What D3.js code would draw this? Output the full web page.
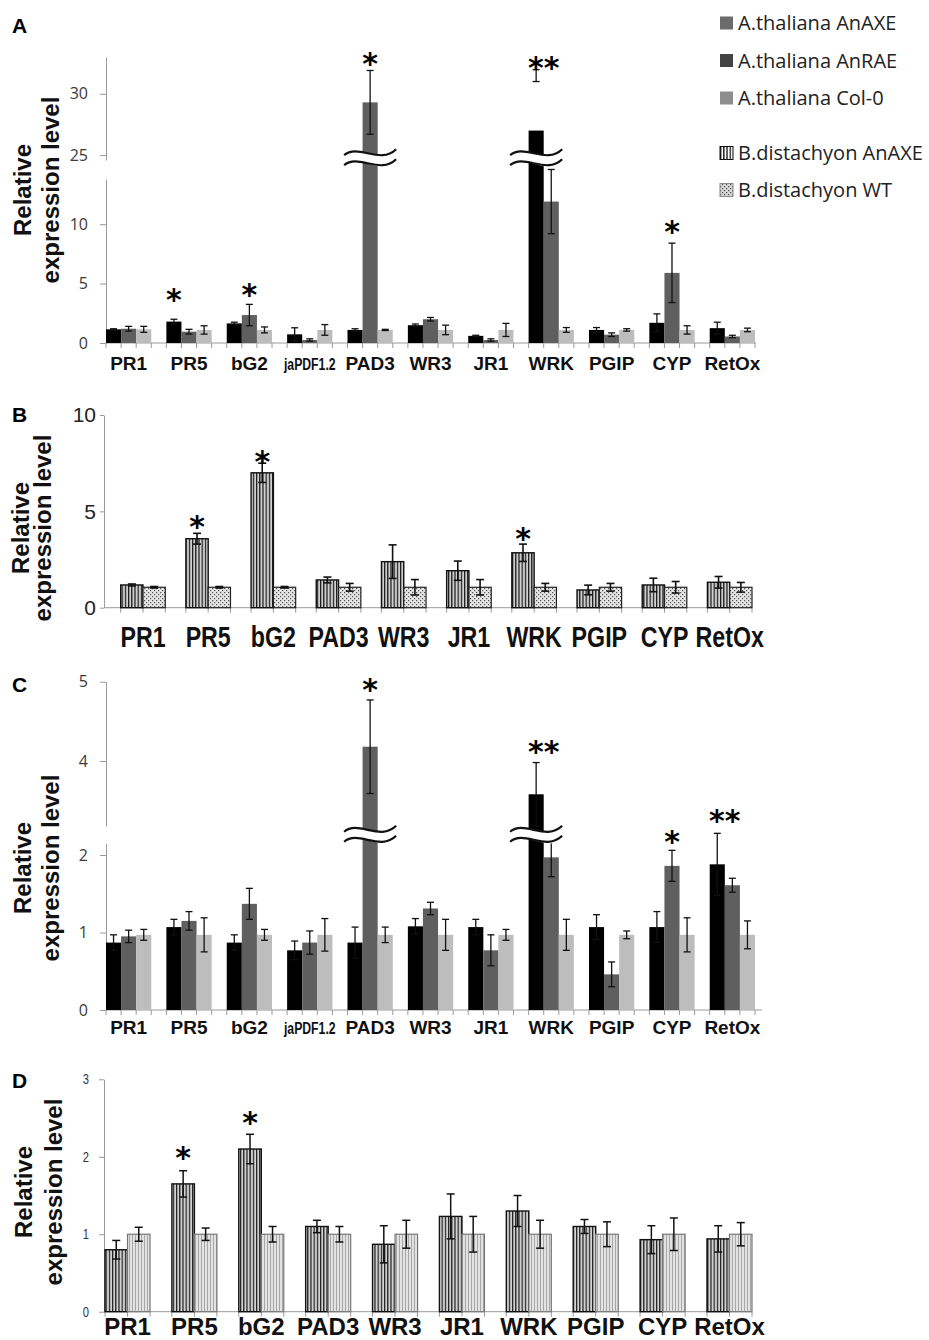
<!DOCTYPE html>
<html>
<head>
<meta charset="utf-8">
<script src="https://cdn.jsdelivr.net/npm/d3@7"></script>
<style>
  body { margin: 0; background: #fff; }
  svg text { font-family: "Liberation Sans", Arial, sans-serif; }
</style>
</head>
<body>
<svg id="fig" width="929" height="1340"></svg>
<script>
// ---- data ----
const genesAC = ["PR1", "PR5", "bG2", "jaPDF1.2", "PAD3", "WR3", "JR1", "WRK", "PGIP", "CYP", "RetOx"];
const genesBD = ["PR1", "PR5", "bG2", "PAD3", "WR3", "JR1", "WRK", "PGIP", "CYP", "RetOx"];
const legendLabels = ["A.thaliana AnAXE", "A.thaliana AnRAE", "A.thaliana Col-0", "B.distachyon AnAXE", "B.distachyon WT"];

// panel A (A. thaliana)
const aAxe    = [1.15, 1.8, 1.65, 0.73, 1.1, 1.5, 0.6, 27.0, 1.1, 1.7, 1.25];
const aAxeErr = [0.05, 0.2, 0.1, 0.55, 0.1, 0.1, 0.05, 4.0, 0.2, 0.75, 0.5];
const aRae    = [1.2, 0.95, 2.35, 0.25, 29.3, 2.0, 0.25, 11.9, 0.7, 5.9, 0.55];
const aRaeErr = [0.2, 0.2, 0.9, 0.1, 2.6, 0.15, 0.1, 2.7, 0.15, 2.5, 0.1];
const aCol    = [1.15, 1.1, 1.1, 1.1, 1.1, 1.1, 1.1, 1.1, 1.1, 1.1, 1.1];
const aColErr = [0.25, 0.35, 0.25, 0.45, 0.05, 0.4, 0.55, 0.2, 0.1, 0.35, 0.15];

// panel B (B. distachyon)
const bAxe    = [1.18, 3.58, 7.0, 1.44, 2.39, 1.92, 2.85, 0.92, 1.18, 1.32];
const bAxeErr = [0.05, 0.28, 0.5, 0.15, 0.87, 0.5, 0.45, 0.25, 0.35, 0.3];
const bWt     = [1.06, 1.06, 1.06, 1.06, 1.06, 1.06, 1.06, 1.06, 1.06, 1.06];
const bWtErr  = [0.04, 0.04, 0.04, 0.2, 0.4, 0.4, 0.2, 0.2, 0.3, 0.25];

// panel C (A. thaliana)
const cAxe    = [0.87, 1.07, 0.87, 0.77, 0.87, 1.08, 1.07, 3.58, 1.07, 1.07, 1.88];
const cAxeErr = [0.1, 0.1, 0.1, 0.12, 0.2, 0.1, 0.1, 0.4, 0.16, 0.2, 0.4];
const cRae    = [0.95, 1.15, 1.37, 0.87, 4.18, 1.31, 0.77, 1.97, 0.46, 1.86, 1.61];
const cRaeErr = [0.08, 0.12, 0.2, 0.15, 0.59, 0.08, 0.2, 0.25, 0.16, 0.2, 0.09];
const cCol    = [0.97, 0.97, 0.97, 0.97, 0.97, 0.97, 0.97, 0.97, 0.97, 0.97, 0.97];
const cColErr = [0.07, 0.22, 0.07, 0.21, 0.1, 0.2, 0.07, 0.2, 0.05, 0.22, 0.18];

// panel D (B. distachyon)
const dAxe    = [0.8, 1.65, 2.1, 1.1, 0.87, 1.23, 1.3, 1.1, 0.93, 0.94];
const dAxeErr = [0.12, 0.17, 0.19, 0.08, 0.24, 0.29, 0.2, 0.09, 0.18, 0.17];
const dWt     = [1.0, 1.0, 1.0, 1.0, 1.0, 1.0, 1.0, 1.0, 1.0, 1.0];
const dWtErr  = [0.09, 0.08, 0.1, 0.1, 0.18, 0.23, 0.18, 0.16, 0.21, 0.15];

// y tick values
const ticksALo = [0, 5, 10], ticksAHi = [25, 30];
const ticksB = [0, 5, 10];
const ticksCLo = [0, 1, 2], ticksCHi = [4, 5];
const ticksD = [0, 1, 2, 3];

// significance marks: gene, bar slot (0.5 = between first two bars), level
const starsA = [
  { gene: "PR5", slot: 0, v: 4.0, t: "*" },
  { gene: "bG2", slot: 1, v: 4.45, t: "*" },
  { gene: "PAD3", slot: 1, v: 32.8, t: "*" },
  { gene: "WRK", slot: 0.5, v: 32.5, t: "**" },
  { gene: "CYP", slot: 1, v: 9.75, t: "*" }
];
const starsB = [
  { gene: "PR5", slot: 0, v: 4.46, t: "*" },
  { gene: "bG2", slot: 0, v: 7.8, t: "*" },
  { gene: "WRK", slot: 0, v: 3.82, t: "*" }
];
const starsC = [
  { gene: "PAD3", slot: 1, v: 4.96, t: "*" },
  { gene: "WRK", slot: 0.5, v: 4.18, t: "**" },
  { gene: "CYP", slot: 1, v: 2.23, t: "*" },
  { gene: "RetOx", slot: 0.5, v: 2.5, t: "**" }
];
const starsD = [
  { gene: "PR5", slot: 0, v: 2.05, t: "*" },
  { gene: "bG2", slot: 0, v: 2.5, t: "*" }
];

// ---- drawing ----
const svg = d3.select("#fig");
const defs = svg.append("defs");

function stripes(id, bg, fg, period, w) {
  const pt = defs.append("pattern").attr("id", id)
    .attr("patternUnits", "userSpaceOnUse").attr("width", period).attr("height", 10);
  pt.append("rect").attr("width", period).attr("height", 10).attr("fill", bg);
  pt.append("rect").attr("width", w).attr("height", 10).attr("fill", fg);
}
function dots(id, bg, fg) {
  const pt = defs.append("pattern").attr("id", id)
    .attr("patternUnits", "userSpaceOnUse").attr("width", 4).attr("height", 4);
  pt.append("rect").attr("width", 4).attr("height", 4).attr("fill", bg);
  pt.append("rect").attr("x", 0).attr("y", 0).attr("width", 1.2).attr("height", 1.2).attr("fill", fg);
  pt.append("rect").attr("x", 2).attr("y", 2).attr("width", 1.2).attr("height", 1.2).attr("fill", fg);
}
stripes("stripeB", "#cfcfcf", "#151515", 3.2, 1.2);
stripes("stripeD", "#d2d2d2", "#1a1a1a", 3.2, 1.2);
stripes("stripeLeg", "#ffffff", "#111", 3.2, 1.3);
stripes("finesD", "#e2e2e2", "#a8a8a8", 3, 1);
dots("dotB", "#e4e4e4", "#555");
dots("dotLeg", "#d8d8d8", "#444");

function panel(p) {
  const g = svg.append("g");
  const n = p.series.length;
  const x0 = d3.scaleBand().domain(p.genes).range(p.xr).paddingInner(p.pad).paddingOuter(0);
  const x1 = d3.scaleBand().domain(d3.range(n)).range([0, x0.bandwidth()]);
  const lo = d3.scaleLinear().domain(p.lo).range(p.loR);
  const hi = p.hi ? d3.scaleLinear().domain(p.hi).range(p.hiR) : null;
  const y = v => (hi && v >= p.hi[0]) ? hi(v) : lo(v);
  const base = lo(0);

  // y axis (two pieces when broken)
  const styleAxis = sel => {
    sel.select(".domain").attr("stroke", "#9a9a9a");
    sel.selectAll(".tick line").attr("stroke", "#9a9a9a");
    sel.selectAll(".tick text").attr("fill", p.tickColor).attr("font-size", p.tickFont)
      .style("font-family", p.tickFamily);
    if (p.tickNarrow) {
      sel.selectAll(".tick text").each(function () {
        const t = d3.select(this);
        const x = +t.attr("x");
        t.attr("x", x / p.tickNarrow).attr("transform", `scale(${p.tickNarrow},1)`);
      });
    }
  };
  const fmt = d3.format("d");
  g.append("g").attr("transform", `translate(${p.yAxisX},0)`)
    .call(d3.axisLeft(lo).tickValues(p.loTicks).tickFormat(fmt).tickSize(p.tickLen).tickSizeOuter(0).tickPadding(p.tickPad))
    .call(styleAxis);
  if (hi) {
    g.append("g").attr("transform", `translate(${p.yAxisX},0)`)
      .call(d3.axisLeft(hi).tickValues(p.hiTicks).tickFormat(fmt).tickSize(p.tickLen).tickSizeOuter(0).tickPadding(p.tickPad))
      .call(styleAxis);
  }

  // x axis line + small ticks at bar edges
  g.append("line").attr("x1", p.yAxisX).attr("x2", p.xEnd).attr("y1", base).attr("y2", base)
    .attr("stroke", "#9a9a9a");
  const edges = [];
  p.genes.forEach(gn => { for (let i = 0; i <= n; i++) edges.push(x0(gn) + i * x1.bandwidth()); });
  g.selectAll(null).data(edges).join("line")
    .attr("x1", d => d).attr("x2", d => d).attr("y1", base).attr("y2", base + 5)
    .attr("stroke", "#9a9a9a");

  // bars
  p.series.forEach((s, si) => {
    const rows = p.genes.map((gn, i) => ({ gn, v: s.values[i], e: s.err[i] }));
    g.selectAll(null).data(rows).join("rect")
      .attr("x", d => x0(d.gn) + x1(si)).attr("width", x1.bandwidth())
      .attr("y", d => y(d.v)).attr("height", d => base - y(d.v))
      .attr("fill", s.fill).attr("stroke", s.stroke || "none").attr("stroke-width", s.sw || 0);
  });

  // error bars
  p.series.forEach((s, si) => {
    const rows = p.genes.map((gn, i) => ({ gn, v: s.values[i], e: s.err[i] }));
    const cx = d => x0(d.gn) + x1(si) + x1.bandwidth() / 2;
    const eg = g.selectAll(null).data(rows).join("g");
    eg.append("line").attr("x1", cx).attr("x2", cx)
      .attr("y1", d => y(d.v + d.e)).attr("y2", d => y(d.v - d.e));
    eg.append("line").attr("x1", d => cx(d) - p.cap).attr("x2", d => cx(d) + p.cap)
      .attr("y1", d => y(d.v + d.e)).attr("y2", d => y(d.v + d.e));
    eg.append("line").attr("x1", d => cx(d) - p.cap).attr("x2", d => cx(d) + p.cap)
      .attr("y1", d => y(d.v - d.e)).attr("y2", d => y(d.v - d.e));
    eg.selectAll("line").attr("stroke", "#111").attr("stroke-width", p.errW);
  });

  // axis-break marks on bars that reach the upper segment
  if (hi) {
    const yb = hi(p.breakAt);
    p.series.forEach((s, si) => {
      p.genes.forEach((gn, i) => {
        if (s.values[i] < p.hi[0]) return;
        const cx = x0(gn) + x1(si) + x1.bandwidth() / 2;
        const wave = (yy) => `M${cx - 26},${yy + 2} C${cx - 12},${yy - 10} ${cx + 10},${yy + 12} ${cx + 26},${yy - 4}`;
        const back = (yy) => `C${cx + 10},${yy + 12} ${cx - 12},${yy - 10} ${cx - 26},${yy + 2}`;
        g.append("path").attr("d", `${wave(yb - 5)} L${cx + 26},${yb + 5} ${back(yb + 5)} Z`)
          .attr("fill", "#fff");
        [yb - 5, yb + 5].forEach(yy => g.append("path").attr("d", wave(yy))
          .attr("fill", "none").attr("stroke", "#111").attr("stroke-width", 2.2));
      });
    });
  }

  // significance asterisks
  g.selectAll(null).data(p.stars).join("text")
    .attr("x", d => x0(d.gene) + (d.slot + 0.5) * x1.bandwidth())
    .attr("y", d => y(d.v) + 0.5 * p.starSize)
    .attr("text-anchor", "middle").attr("font-size", p.starSize).attr("font-weight", "bold")
    .style("font-family", '"DejaVu Sans", sans-serif')
    .text(d => d.t);

  // category labels (narrow ones squeezed horizontally)
  g.selectAll(null).data(p.genes).join("text")
    .attr("transform", d => {
      const sx = d === "jaPDF1.2" ? 0.72 : p.labelScale;
      return `translate(${x0(d) + x0.bandwidth() / 2},${p.labelY}) scale(${sx},1)`;
    })
    .attr("text-anchor", "middle")
    .attr("font-size", d => d === "jaPDF1.2" ? 17 : p.labelFont)
    .attr("font-weight", "bold")
    .attr("fill", "#111")
    .text(d => d);

  // y axis title
  const t = g.append("text").attr("font-size", 24).attr("font-weight", "bold")
    .attr("text-anchor", "middle").attr("fill", "#111")
    .attr("transform", `translate(0,${p.titleY}) rotate(-90)`);
  t.append("tspan").attr("x", 0).attr("y", p.titleX[0]).text("Relative");
  t.append("tspan").attr("x", 0).attr("y", p.titleX[1]).text("expression level");

  // panel letter
  g.append("text").attr("x", 12).attr("y", p.letterY).attr("font-size", 21)
    .attr("font-weight", "bold").text(p.letter);
}

const barsAC = (axe, axeErr, rae, raeErr, col, colErr) => [
  { values: axe, err: axeErr, fill: "#000" },
  { values: rae, err: raeErr, fill: "#5f5f5f" },
  { values: col, err: colErr, fill: "#bdbdbd" }
];

panel({
  letter: "A", letterY: 33, genes: genesAC,
  series: barsAC(aAxe, aAxeErr, aRae, aRaeErr, aCol, aColErr),
  xr: [106, 755], pad: 0.25, yAxisX: 106, xEnd: 756,
  lo: [0, 13.8], loR: [343, 179], hi: [24.6, 33], hiR: [160, 57], breakAt: 24.75,
  loTicks: ticksALo, hiTicks: ticksAHi,
  tickLen: 6, tickPad: 12, tickFont: 16, tickColor: "#3a3a3a", tickFamily: '"Open Sans", sans-serif',
  cap: 3.5, errW: 1.3, stars: starsA, starSize: 30,
  labelY: 370, labelFont: 19, labelScale: 1, titleY: 190, titleX: [31, 59]
});

panel({
  letter: "B", letterY: 422, genes: genesBD,
  series: [
    { values: bAxe, err: bAxeErr, fill: "url(#stripeB)", stroke: "#111", sw: 1.4 },
    { values: bWt, err: bWtErr, fill: "url(#dotB)", stroke: "#222", sw: 1.2 }
  ],
  xr: [120.7, 752], pad: 0.316, yAxisX: 104, xEnd: 752,
  lo: [0, 10], loR: [607.7, 415],
  loTicks: ticksB,
  tickLen: 4, tickPad: 4, tickFont: 21, tickColor: "#222", tickFamily: '"Liberation Sans", Arial, sans-serif',
  cap: 4, errW: 1.6, stars: starsB, starSize: 30,
  labelY: 647, labelFont: 29, labelScale: 0.8, titleY: 528, titleX: [29, 51]
});

panel({
  letter: "C", letterY: 692, genes: genesAC,
  series: barsAC(cAxe, cAxeErr, cRae, cRaeErr, cCol, cColErr),
  xr: [106, 755], pad: 0.25, yAxisX: 106, xEnd: 762,
  lo: [0, 2.15], loR: [1010, 843.4], hi: [3.18, 5], hiR: [826, 681.7], breakAt: 3.07,
  loTicks: ticksCLo, hiTicks: ticksCHi,
  tickLen: 6, tickPad: 12, tickFont: 16, tickColor: "#3a3a3a", tickFamily: '"Open Sans", sans-serif',
  cap: 3.5, errW: 1.3, stars: starsC, starSize: 30,
  labelY: 1034, labelFont: 19, labelScale: 1, titleY: 868, titleX: [31, 59]
});

panel({
  letter: "D", letterY: 1088, genes: genesBD,
  series: [
    { values: dAxe, err: dAxeErr, fill: "url(#stripeD)", stroke: "#111", sw: 1.4 },
    { values: dWt, err: dWtErr, fill: "url(#finesD)", stroke: "#777", sw: 1.2 }
  ],
  xr: [105, 752], pad: 0.327, yAxisX: 104, xEnd: 752,
  lo: [0, 3], loR: [1311.7, 1079.3],
  loTicks: ticksD,
  tickLen: 5, tickPad: 10, tickFont: 14, tickNarrow: 0.8, tickColor: "#333", tickFamily: '"Liberation Sans", Arial, sans-serif',
  cap: 4, errW: 1.5, stars: starsD, starSize: 30,
  labelY: 1335, labelFont: 24, labelScale: 1, titleY: 1192, titleX: [32, 62]
});

// legend
const leg = svg.append("g");
const legFill = ["#6b6b6b", "#434343", "#8d8d8d", "url(#stripeLeg)", "url(#dotLeg)"];
const legStroke = ["none", "none", "none", "#111", "#888"];
const legRows = leg.selectAll(null).data(legendLabels).join("g")
  .attr("transform", (d, i) => `translate(720,${i < 3 ? 23 + i * 37.5 : 153 + (i - 3) * 37})`);
legRows.append("rect").attr("x", 0).attr("y", -6.5).attr("width", 13).attr("height", 13)
  .attr("fill", (d, i) => legFill[i]).attr("stroke", (d, i) => legStroke[i]);
legRows.append("text").attr("x", 18).attr("y", 7).attr("font-size", 20).attr("fill", "#222")
  .style("font-family", '"Open Sans", sans-serif').text(d => d);
</script>
</body>
</html>
